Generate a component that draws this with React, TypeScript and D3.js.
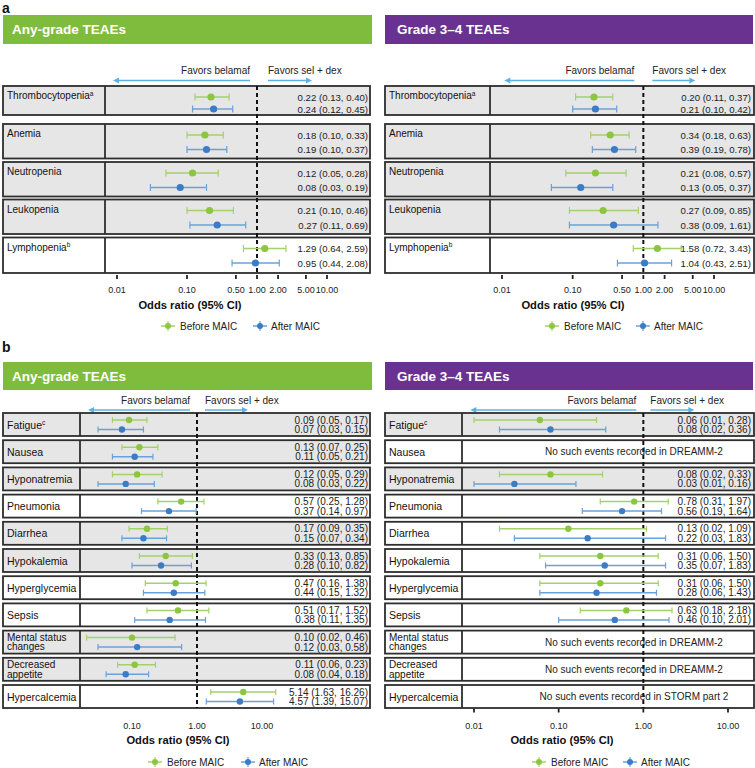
import React from "react";
import * as d3 from "d3";

type Est = [number, number, number] | null;

// ---------- DATA ----------
const aCategories = ["Thrombocytopenia", "Anemia", "Neutropenia", "Leukopenia", "Lymphopenia"];
const aSuperscripts = ["a", "", "", "", "b"];
const aAnyBefore: Est[] = [[0.22, 0.13, 0.40], [0.18, 0.10, 0.33], [0.12, 0.05, 0.28], [0.21, 0.10, 0.46], [1.29, 0.64, 2.59]];
const aAnyAfter: Est[] = [[0.24, 0.12, 0.45], [0.19, 0.10, 0.37], [0.08, 0.03, 0.19], [0.27, 0.11, 0.69], [0.95, 0.44, 2.08]];
const aAnyShaded = [true, true, true, true, false];
const aG34Before: Est[] = [[0.20, 0.11, 0.37], [0.34, 0.18, 0.63], [0.21, 0.08, 0.57], [0.27, 0.09, 0.85], [1.58, 0.72, 3.43]];
const aG34After: Est[] = [[0.21, 0.10, 0.42], [0.39, 0.19, 0.78], [0.13, 0.05, 0.37], [0.38, 0.09, 1.61], [1.04, 0.43, 2.51]];
const aG34Shaded = [true, true, true, true, false];

const bCategories = ["Fatigue", "Nausea", "Hyponatremia", "Pneumonia", "Diarrhea", "Hypokalemia", "Hyperglycemia", "Sepsis", "Mental status|changes", "Decreased|appetite", "Hypercalcemia"];
const bSuperscripts = ["c", "", "", "", "", "", "", "", "", "", ""];
const bAnyBefore: Est[] = [[0.09, 0.05, 0.17], [0.13, 0.07, 0.25], [0.12, 0.05, 0.29], [0.57, 0.25, 1.28], [0.17, 0.09, 0.35], [0.33, 0.13, 0.85], [0.47, 0.16, 1.38], [0.51, 0.17, 1.52], [0.10, 0.02, 0.46], [0.11, 0.06, 0.23], [5.14, 1.63, 16.26]];
const bAnyAfter: Est[] = [[0.07, 0.03, 0.15], [0.11, 0.05, 0.21], [0.08, 0.03, 0.22], [0.37, 0.14, 0.97], [0.15, 0.07, 0.34], [0.28, 0.10, 0.82], [0.44, 0.15, 1.32], [0.38, 0.11, 1.35], [0.12, 0.03, 0.58], [0.08, 0.04, 0.18], [4.57, 1.39, 15.07]];
const bAnyShaded = [true, true, true, false, true, true, false, false, true, true, false];
const bG34Before: Est[] = [[0.06, 0.01, 0.28], null, [0.08, 0.02, 0.33], [0.78, 0.31, 1.97], [0.13, 0.02, 1.09], [0.31, 0.06, 1.50], [0.31, 0.06, 1.50], [0.63, 0.18, 2.18], null, null, null];
const bG34After: Est[] = [[0.08, 0.02, 0.36], null, [0.03, 0.01, 0.16], [0.56, 0.19, 1.64], [0.22, 0.03, 1.83], [0.35, 0.07, 1.83], [0.28, 0.06, 1.43], [0.46, 0.10, 2.01], null, null, null];
const bG34Shaded = [true, false, true, false, false, false, false, false, false, false, false];
const bG34Notes = ["", "No such events recorded in DREAMM-2", "", "", "", "", "", "", "No such events recorded in DREAMM-2", "No such events recorded in DREAMM-2", "No such events recorded in STORM part 2"];

const aTickValues = [0.01, 0.1, 0.5, 1, 2, 5, 10];
const aTickLabels = ["0.01", "0.10", "0.50", "1.00", "2.00", "5.00", "10.00"];
const bAnyTickValues = [0.1, 1, 10];
const bAnyTickLabels = ["0.10", "1.00", "10.00"];
const bG34TickValues = [0.01, 0.1, 1, 10];
const bG34TickLabels = ["0.01", "0.10", "1.00", "10.00"];

const headerAny = "Any-grade TEAEs";
const headerG34 = "Grade 3–4 TEAEs";
const favorsLeft = "Favors belamaf";
const favorsRight = "Favors sel + dex";
const axisTitle = "Odds ratio (95% CI)";
const legendLabels = ["Before MAIC", "After MAIC"];

// ---------- STYLE ----------
const FONT = "'Liberation Sans', Arial, Helvetica, sans-serif";
const GREEN_HEAD = "#7fbc3e";
const PURPLE_HEAD = "#6a3290";
const GREEN = "#8cc63f";
const GREEN_LINE = "#a3d16a";
const BLUE = "#3b7cc6";
const BLUE_LINE = "#6aa1d8";
const ARROW = "#5ab3e4";
const SHADE = "#e6e6e6";
const BORDER = "#2e2e2e";

const fmt = (e: [number, number, number]) =>
  `${d3.format(".2f")(e[0])} (${d3.format(".2f")(e[1])}, ${d3.format(".2f")(e[2])})`;

interface Row { label: string; sup: string; before: Est; after: Est; shaded: boolean; note: string; }

interface Cfg {
  left: number; labelEnd: number; right: number; headerRight: number;
  headerText: string; headerColor: string; headerY: number; headerH: number; headerTextX: number;
  favorsY: number; arrowY: number; arrowL: number; arrowR: number; gapL: number; gapR: number;
  rowTops: number[]; rowHs: number[]; compact: boolean;
  domain: [number, number]; range: [number, number];
  ticks: number[]; tickLabels: string[]; tickMarks: boolean; tickY: number; tickLabelY: number;
  titleX: number; titleY: number; legendY: number; legendGX: number; legendBX: number;
  valueX: number; noteX: number; pointR: number;
}

function buildRows(cats: string[], sups: string[], before: Est[], after: Est[], shaded: boolean[], notes?: string[]): Row[] {
  return cats.map((c, i) => ({ label: c, sup: sups[i], before: before[i], after: after[i], shaded: shaded[i], note: notes ? notes[i] : "" }));
}

function Arrow({ x1, x2, y }: { x1: number; x2: number; y: number }) {
  const dir = x2 > x1 ? 1 : -1;
  return (
    <g>
      <line x1={x1} x2={x2 - dir * 4} y1={y} y2={y} stroke={ARROW} strokeWidth={1.5} />
      <polygon points={`${x2},${y} ${x2 - dir * 6},${y - 3} ${x2 - dir * 6},${y + 3}`} fill={ARROW} />
    </g>
  );
}

function ErrBar({ e, y, x, color, lineColor, r, cap }: { e: [number, number, number]; y: number; x: (v: number) => number; color: string; lineColor: string; r: number; cap: number }) {
  return (
    <g>
      <line x1={x(e[1])} x2={x(e[2])} y1={y} y2={y} stroke={lineColor} strokeWidth={1.5} />
      <line x1={x(e[1])} x2={x(e[1])} y1={y - cap} y2={y + cap} stroke={lineColor} strokeWidth={1.2} />
      <line x1={x(e[2])} x2={x(e[2])} y1={y - cap} y2={y + cap} stroke={lineColor} strokeWidth={1.2} />
      <circle cx={x(e[0])} cy={y} r={r} fill={color} />
    </g>
  );
}

function LegendMark({ x, y, color, lineColor }: { x: number; y: number; color: string; lineColor: string }) {
  return (
    <g>
      <line x1={x - 7} x2={x + 7} y1={y} y2={y} stroke={lineColor} strokeWidth={1.5} />
      <line x1={x} x2={x} y1={y - 5} y2={y + 5} stroke={lineColor} strokeWidth={1.2} />
      <circle cx={x} cy={y} r={3} fill={color} />
    </g>
  );
}

function Panel({ cfg, rows }: { cfg: Cfg; rows: Row[] }) {
  const x = d3.scaleLog().domain(cfg.domain).range(cfg.range);
  const x1 = x(1);
  const lastBottom = cfg.rowTops[rows.length - 1] + cfg.rowHs[rows.length - 1];
  const yPos = (top: number, h: number) =>
    cfg.compact ? [top + 7, top + 16.5] : [top + 11, top + Math.min(h - 6, 25.5)];
  return (
    <g fontFamily={FONT}>
      <rect x={cfg.left} y={cfg.headerY} width={cfg.headerRight - cfg.left} height={cfg.headerH} fill={cfg.headerColor} />
      <text x={cfg.headerTextX} y={cfg.headerY + cfg.headerH / 2 + 4.8} fill="#fff" fontWeight="bold" fontSize={13.5}>{cfg.headerText}</text>

      <text x={x1 - cfg.gapL} y={cfg.favorsY} textAnchor="end" fontSize={10} fill="#222">{favorsLeft}</text>
      <text x={x1 + cfg.gapR} y={cfg.favorsY} textAnchor="start" fontSize={10} fill="#222">{favorsRight}</text>
      <Arrow x1={x1 - cfg.gapL} x2={x1 - cfg.arrowL} y={cfg.arrowY} />
      <Arrow x1={x1 + cfg.gapR} x2={x1 + cfg.arrowR} y={cfg.arrowY} />

      {rows.map((r, i) => {
        const top = cfg.rowTops[i];
        const h = cfg.rowHs[i];
        const lines = r.label.split("|");
        let labelEl;
        if (cfg.compact) {
          if (lines.length === 1) {
            labelEl = (
              <text x={cfg.left + 4} y={top + h / 2 + 4} fontSize={10.5} fill="#111">
                {lines[0]}
                {r.sup && <tspan fontSize={6.5} dy={-4}>{r.sup}</tspan>}
              </text>
            );
          } else {
            labelEl = (
              <text fontSize={10} fill="#111">
                <tspan x={cfg.left + 4} y={top + 10}>{lines[0]}</tspan>
                <tspan x={cfg.left + 4} y={top + 19.8}>{lines[1]}</tspan>
              </text>
            );
          }
        } else {
          labelEl = (
            <text x={cfg.left + 4} y={top + 13} fontSize={10} fill="#111">
              {lines[0]}
              {r.sup && <tspan fontSize={6.5} dy={-3.5}>{r.sup}</tspan>}
            </text>
          );
        }
        return (
          <g key={i}>
            <rect x={cfg.left} y={top} width={cfg.right - cfg.left} height={h} fill={r.shaded ? SHADE : "#fff"} stroke={BORDER} strokeWidth={1.8} />
            <line x1={cfg.labelEnd} x2={cfg.labelEnd} y1={top} y2={top + h} stroke={BORDER} strokeWidth={1.8} />
            {labelEl}
          </g>
        );
      })}

      <line x1={x1} x2={x1} y1={cfg.rowTops[0]} y2={lastBottom} stroke="#111" strokeWidth={2} strokeDasharray="4,3" />

      {rows.map((r, i) => {
        const top = cfg.rowTops[i];
        const h = cfg.rowHs[i];
        const [y1, y2] = yPos(top, h);
        const r0 = cfg.pointR;
        const fs = cfg.compact ? 10 : 9.6;
        return (
          <g key={"m" + i}>
            {r.before && <ErrBar e={r.before} y={y1} x={x} color={GREEN} lineColor={GREEN_LINE} r={r0} cap={cfg.compact ? 3 : 3.5} />}
            {r.after && <ErrBar e={r.after} y={y2} x={x} color={BLUE} lineColor={BLUE_LINE} r={r0} cap={cfg.compact ? 3 : 3.5} />}
            {r.before && <text x={cfg.valueX} y={y1 + 3.5} textAnchor="end" fontSize={fs} fill="#222">{fmt(r.before)}</text>}
            {r.after && <text x={cfg.valueX} y={y2 + 3.5} textAnchor="end" fontSize={fs} fill="#222">{fmt(r.after)}</text>}
            {r.note && <text x={cfg.noteX} y={top + h / 2 + 3.5} textAnchor="middle" fontSize={10} fill="#222">{r.note}</text>}
          </g>
        );
      })}

      {cfg.ticks.map((t, i) => (
        <g key={"t" + i}>
          {cfg.tickMarks && <line x1={x(t)} x2={x(t)} y1={cfg.tickY} y2={cfg.tickY + 4} stroke="#222" strokeWidth={1.8} />}
          <text x={x(t)} y={cfg.tickLabelY} textAnchor="middle" fontSize={9} fill="#222">{cfg.tickLabels[i]}</text>
        </g>
      ))}
      <text x={cfg.titleX} y={cfg.titleY} textAnchor="middle" fontWeight="bold" fontSize={11.2} fill="#111">{axisTitle}</text>

      <LegendMark x={cfg.legendGX} y={cfg.legendY} color={GREEN} lineColor={GREEN_LINE} />
      <text x={cfg.legendGX + 12} y={cfg.legendY + 3.5} fontSize={10} fill="#222">{legendLabels[0]}</text>
      <LegendMark x={cfg.legendBX} y={cfg.legendY} color={BLUE} lineColor={BLUE_LINE} />
      <text x={cfg.legendBX + 11} y={cfg.legendY + 3.5} fontSize={10} fill="#222">{legendLabels[1]}</text>
    </g>
  );
}

const aRowTops = [86, 124, 162, 199.5, 237.5];
const aRowHs = [29, 34.5, 34.5, 34.5, 35.5];
const bRowTops = d3.range(11).map((i) => 413 + i * 27.2);
const bRowHs = d3.range(11).map(() => 23);

const cfgAL: Cfg = {
  left: 3, labelEnd: 105, right: 370, headerRight: 372,
  headerText: headerAny, headerColor: GREEN_HEAD, headerY: 15, headerH: 29, headerTextX: 12,
  favorsY: 74, arrowY: 80.5, arrowL: 144, arrowR: 55, gapL: 7, gapR: 11,
  rowTops: aRowTops, rowHs: aRowHs, compact: false,
  domain: [0.01, 10], range: [117, 327],
  ticks: aTickValues, tickLabels: aTickLabels, tickMarks: true, tickY: 275, tickLabelY: 292.5,
  titleX: 190, titleY: 309, legendY: 326, legendGX: 168, legendBX: 260,
  valueX: 368, noteX: 0, pointR: 3.6,
};
const cfgAR: Cfg = {
  left: 385, labelEnd: 490, right: 754, headerRight: 753,
  headerText: headerG34, headerColor: PURPLE_HEAD, headerY: 15, headerH: 29, headerTextX: 397,
  favorsY: 74, arrowY: 80.5, arrowL: 139, arrowR: 52, gapL: 9, gapR: 9,
  rowTops: aRowTops, rowHs: aRowHs, compact: false,
  domain: [0.01, 10], range: [502, 714],
  ticks: aTickValues, tickLabels: aTickLabels, tickMarks: true, tickY: 275, tickLabelY: 292.5,
  titleX: 573, titleY: 309, legendY: 326, legendGX: 552, legendBX: 643,
  valueX: 751, noteX: 0, pointR: 3.6,
};
const cfgBL: Cfg = {
  left: 3, labelEnd: 80, right: 370, headerRight: 372,
  headerText: headerAny, headerColor: GREEN_HEAD, headerY: 362, headerH: 28, headerTextX: 12,
  favorsY: 404, arrowY: 410, arrowL: 109, arrowR: 51, gapL: 7, gapR: 8,
  rowTops: bRowTops, rowHs: bRowHs, compact: true,
  domain: [0.1, 10], range: [132, 262],
  ticks: bAnyTickValues, tickLabels: bAnyTickLabels, tickMarks: false, tickY: 709, tickLabelY: 729,
  titleX: 178, titleY: 744, legendY: 762, legendGX: 155, legendBX: 248,
  valueX: 368, noteX: 0, pointR: 3.2,
};
const cfgBR: Cfg = {
  left: 385, labelEnd: 462, right: 754, headerRight: 753,
  headerText: headerG34, headerColor: PURPLE_HEAD, headerY: 362, headerH: 28, headerTextX: 397,
  favorsY: 404, arrowY: 410, arrowL: 173, arrowR: 51, gapL: 7, gapR: 7,
  rowTops: bRowTops, rowHs: bRowHs, compact: true,
  domain: [0.01, 10], range: [474, 728],
  ticks: bG34TickValues, tickLabels: bG34TickLabels, tickMarks: true, tickY: 708.5, tickLabelY: 729,
  titleX: 562, titleY: 744, legendY: 762, legendGX: 539, legendBX: 630,
  valueX: 751, noteX: 634, pointR: 3.2,
};

export default function App() {
  const rowsAL = buildRows(aCategories, aSuperscripts, aAnyBefore, aAnyAfter, aAnyShaded);
  const rowsAR = buildRows(aCategories, aSuperscripts, aG34Before, aG34After, aG34Shaded);
  const rowsBL = buildRows(bCategories, bSuperscripts, bAnyBefore, bAnyAfter, bAnyShaded);
  const rowsBR = buildRows(bCategories, bSuperscripts, bG34Before, bG34After, bG34Shaded, bG34Notes);
  return (
    <div style={{ position: "absolute", left: 0, top: 0 }}>
      <svg width={755} height={768} style={{ display: "block", background: "#fff" }}>
        <text x={2} y={13} fontFamily={FONT} fontWeight="bold" fontSize={14} fill="#111">a</text>
        <text x={2} y={352} fontFamily={FONT} fontWeight="bold" fontSize={14} fill="#111">b</text>
        <Panel cfg={cfgAL} rows={rowsAL} />
        <Panel cfg={cfgAR} rows={rowsAR} />
        <Panel cfg={cfgBL} rows={rowsBL} />
        <Panel cfg={cfgBR} rows={rowsBR} />
      </svg>
    </div>
  );
}
